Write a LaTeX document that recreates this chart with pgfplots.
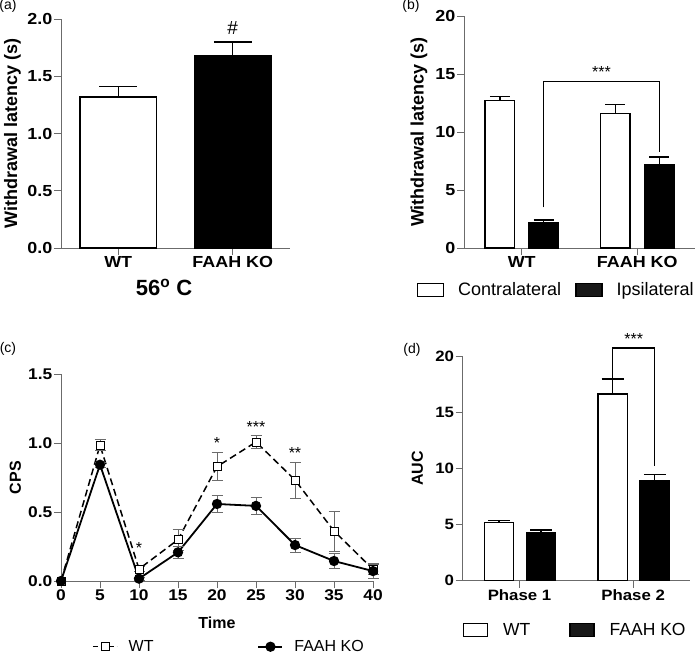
\documentclass[border=0pt]{standalone}
\usepackage{fontspec}
\setmainfont{Liberation Sans}
\newfontfamily\tickfont[FakeStretch=1.12]{Liberation Sans}
\usepackage{pgfplots}
\pgfplotsset{compat=1.18}
\definecolor{axgray}{gray}{0.42}
\pgfplotsset{
 panel/.style={
  scale only axis, clip=false,
  axis x line*=bottom, axis y line*=left,
  axis line style={axgray, line width=0.9pt, -},
  tick style={axgray, line width=0.9pt},
  tick align=outside, major tick length=7pt,
  tick label style={font=\fontsize{16}{16}\tickfont\bfseries, inner sep=1.5pt},
  /pgf/number format/assume math mode=true,
  label style={font=\fontsize{18}{18}\selectfont\bfseries},
 },
 barerr/.style={error bars/y dir=plus, error bars/y explicit, error bars/error mark=|,
   error bars/error bar style={line width=1.4pt, black, solid},
   error bars/error mark options={line width=1.4pt, black, solid, mark size=#1}},
 boxlegendB/.style={legend image code/.code={\draw[##1] (0pt,-6.5pt) rectangle (26pt,6.5pt);}},
 boxlegendD/.style={legend image code/.code={\draw[##1] (0pt,-6.5pt) rectangle (24pt,6.5pt);}},
 linelegend/.style={legend image code/.code={\draw[mark repeat=2,mark phase=2,##1] plot coordinates {(0pt,0pt) (12pt,0pt) (24pt,0pt)};}},
}
\begin{document}
\begin{tikzpicture}
\useasboundingbox (0pt,0pt) rectangle (696pt,-655pt);
\node[font=\fontsize{14}{14}\selectfont] at (8pt,-6pt) {(a)};
\node[font=\fontsize{14}{14}\selectfont] at (411pt,-6pt) {(b)};
\node[font=\fontsize{14}{14}\selectfont] at (8pt,-349pt) {(c)};
\node[font=\fontsize{14}{14}\selectfont] at (412pt,-350pt) {(d)};

% ---------------- (a)
\begin{axis}[panel, at={(61pt,-248pt)}, anchor=south west,
  width=229pt, height=229pt,
  xmin=-0.5, xmax=1.5, ymin=0, ymax=2,
  xtick={0,1}, xticklabels={WT, FAAH KO},
  ytick={0,0.5,1,1.5,2},
  yticklabel style={/pgf/number format/.cd, fixed, fixed zerofill, precision=1},
  ylabel={Withdrawal latency (s)},
  ylabel style={at={(axis description cs:-0.212,0.5)}, anchor=center},
  xlabel={56\textsuperscript{o} C},
  xlabel style={at={(axis description cs:0.45,-0.1725)}, anchor=center, font=\fontsize{22}{22}\selectfont\bfseries},
]
\addplot[ybar, bar width=0.67, bar shift=0pt, fill=white, draw=black, line width=1.5pt, barerr=19pt]
  coordinates {(0,1.32) +- (0,0.09)};
\addplot[ybar, bar width=0.67, bar shift=0pt, fill=black, draw=black, line width=1.5pt, barerr=19pt]
  coordinates {(1,1.677) +- (0,0.123)};
\node[font=\fontsize{19}{19}\selectfont] at (axis cs:1,1.92) {\#};
\end{axis}

% ---------------- (b)
\begin{axis}[panel, at={(464pt,-248pt)}, anchor=south west,
  width=231pt, height=232pt,
  xmin=-0.5, xmax=1.5, ymin=0, ymax=20,
  xtick={0,1}, xticklabels={WT, FAAH KO},
  ytick={0,5,10,15,20},
  ylabel={Withdrawal latency (s)},
  ylabel style={at={(axis description cs:-0.195,0.5)}, anchor=center},
  legend style={at={(-0.2048,-0.1797)}, anchor=west, draw=none, fill=none, inner sep=0pt,
    legend columns=2, font=\fontsize{18}{18}\selectfont, nodes={inner sep=0pt},
    /tikz/every odd column/.append style={column sep=14pt},
    /tikz/every even column/.append style={column sep=14pt}},
]
\addplot[forget plot, ybar, bar width=0.255, bar shift=0pt, fill=white, draw=black, line width=1.5pt, barerr=10pt]
  coordinates {(-0.19,12.7) +- (0,0.38) (0.81,11.61) +- (0,0.78)};
\addplot[forget plot, ybar, bar width=0.255, bar shift=0pt, fill=black, draw=black, line width=1.5pt, barerr=10pt]
  coordinates {(0.19,2.18) +- (0,0.23) (1.19,7.16) +- (0,0.68)};
\addlegendimage{boxlegendB, fill=white, draw=black, line width=1.3pt}
\addlegendentry{Contralateral}
\addlegendimage{boxlegendB, fill=black!90, draw=black, line width=1.3pt}
\addlegendentry{Ipsilateral}
\draw[line width=1.4pt] (axis cs:0.19,3.5) -- (axis cs:0.19,14.34) -- (axis cs:1.19,14.34) -- (axis cs:1.19,8.3);
\node[font=\fontsize{16}{16}\selectfont] at (axis cs:0.69,15.2) {***};
\end{axis}

% ---------------- (c)
\begin{axis}[panel, at={(61pt,-581pt)}, anchor=south west,
  width=312pt, height=206.7pt,
  xmin=0, xmax=40, ymin=0, ymax=1.5,
  xtick={0,5,...,40},
  ytick={0,0.5,1,1.5},
  tick label style={font=\fontsize{15.5}{15.5}\tickfont\bfseries},
  yticklabel style={/pgf/number format/.cd, fixed, fixed zerofill, precision=1},
  ylabel={CPS},
  ylabel style={at={(axis description cs:-0.146,0.5)}, anchor=center, font=\fontsize{16}{16}\selectfont\bfseries},
  xlabel={Time},
  xlabel style={at={(axis description cs:0.5,-0.2)}, anchor=center, font=\fontsize{16}{16}\selectfont\bfseries},
  legend style={at={(0.0994,-0.318)}, anchor=west, draw=none, fill=none, inner sep=0pt,
    legend columns=2, font=\fontsize{16}{16}\selectfont, nodes={inner sep=0pt},
    /tikz/every odd column/.append style={column sep=11pt},
    /tikz/every even column/.append style={column sep=104pt}},
]
\addplot[forget plot, black, line width=1.5pt, dash pattern=on 7pt off 4pt,
  mark=square*, mark size=4pt, mark options={fill=white, draw=black, line width=0.8pt, solid},
  error bars/y dir=both, error bars/y explicit, error bars/error mark=|,
  error bars/error bar style={line width=0.8pt, axgray, solid},
  error bars/error mark options={line width=0.8pt, axgray, solid, mark size=5.5pt}]
  coordinates {(0,0) +- (0,0) (5,0.985) +- (0,0.04) (10,0.087) +- (0,0.02) (15,0.30) +- (0,0.075)
   (20,0.83) +- (0,0.10) (25,1.009) +- (0,0.05) (30,0.733) +- (0,0.13) (35,0.363) +- (0,0.145) (40,0.085) +- (0,0.04)};
\addplot[forget plot, black, line width=1.8pt, solid,
  mark=*, mark size=4.2pt, mark options={fill=black, draw=black},
  error bars/y dir=both, error bars/y explicit, error bars/error mark=|,
  error bars/error bar style={line width=0.8pt, axgray, solid},
  error bars/error mark options={line width=0.8pt, axgray, solid, mark size=5.5pt}]
  coordinates {(0,0) +- (0,0) (5,0.844) +- (0,0.02) (10,0.017) +- (0,0.01) (15,0.208) +- (0,0.045)
   (20,0.559) +- (0,0.06) (25,0.545) +- (0,0.065) (30,0.261) +- (0,0.05) (35,0.145) +- (0,0.055) (40,0.072) +- (0,0.05)};
\addlegendimage{linelegend, black, line width=1.5pt, dash pattern=on 5pt off 3pt, mark=square*, mark size=4pt, mark options={fill=white, draw=black, line width=0.8pt, solid}}
\addlegendentry{WT}
\addlegendimage{linelegend, black, line width=1.8pt, mark=*, mark size=4.2pt}
\addlegendentry{FAAH KO}
\node[font=\fontsize{16}{16}\selectfont] at (axis cs:10,0.237) {*};
\node[font=\fontsize{16}{16}\selectfont] at (axis cs:20,1.0) {*};
\node[font=\fontsize{16}{16}\selectfont] at (axis cs:25,1.12) {***};
\node[font=\fontsize{16}{16}\selectfont] at (axis cs:30,0.927) {**};
\end{axis}

% ---------------- (d)
\begin{axis}[panel, at={(462.7pt,-580.7pt)}, anchor=south west,
  width=227.3pt, height=224.7pt,
  xmin=-0.5, xmax=1.5, ymin=0, ymax=20,
  xtick={0,1}, xticklabels={Phase 1, Phase 2},
  tick label style={font=\fontsize{15}{15}\tickfont\bfseries},
  ytick={0,5,10,15,20},
  ylabel={AUC},
  ylabel style={at={(axis description cs:-0.199,0.5)}, anchor=center, font=\fontsize{16}{16}\selectfont\bfseries},
  legend style={at={(0,-0.219)}, anchor=west, draw=none, fill=none, inner sep=0pt,
    legend columns=2, font=\fontsize{17.5}{17.5}\selectfont, nodes={inner sep=0pt},
    /tikz/every odd column/.append style={column sep=15pt},
    /tikz/every even column/.append style={column sep=39pt}},
]
\addplot[forget plot, ybar, bar width=0.256, bar shift=0pt, fill=white, draw=black, line width=1.5pt, barerr=11pt]
  coordinates {(-0.18,5.16) +- (0,0.18) (0.82,16.62) +- (0,1.33)};
\addplot[forget plot, ybar, bar width=0.256, bar shift=0pt, fill=black, draw=black, line width=1.5pt, barerr=11pt]
  coordinates {(0.19,4.31) +- (0,0.20) (1.19,8.87) +- (0,0.60)};
\addlegendimage{boxlegendD, fill=white, draw=black, line width=1.3pt}
\addlegendentry{WT}
\addlegendimage{boxlegendD, fill=black!90, draw=black, line width=1.3pt}
\addlegendentry{FAAH KO}
\draw[line width=1.4pt] (axis cs:0.82,17.95) -- (axis cs:0.82,20.7) -- (axis cs:1.19,20.7) -- (axis cs:1.19,10.2);
\node[font=\fontsize{16}{16}\selectfont] at (axis cs:1.005,21.5) {***};
\end{axis}
\end{tikzpicture}
\end{document}
